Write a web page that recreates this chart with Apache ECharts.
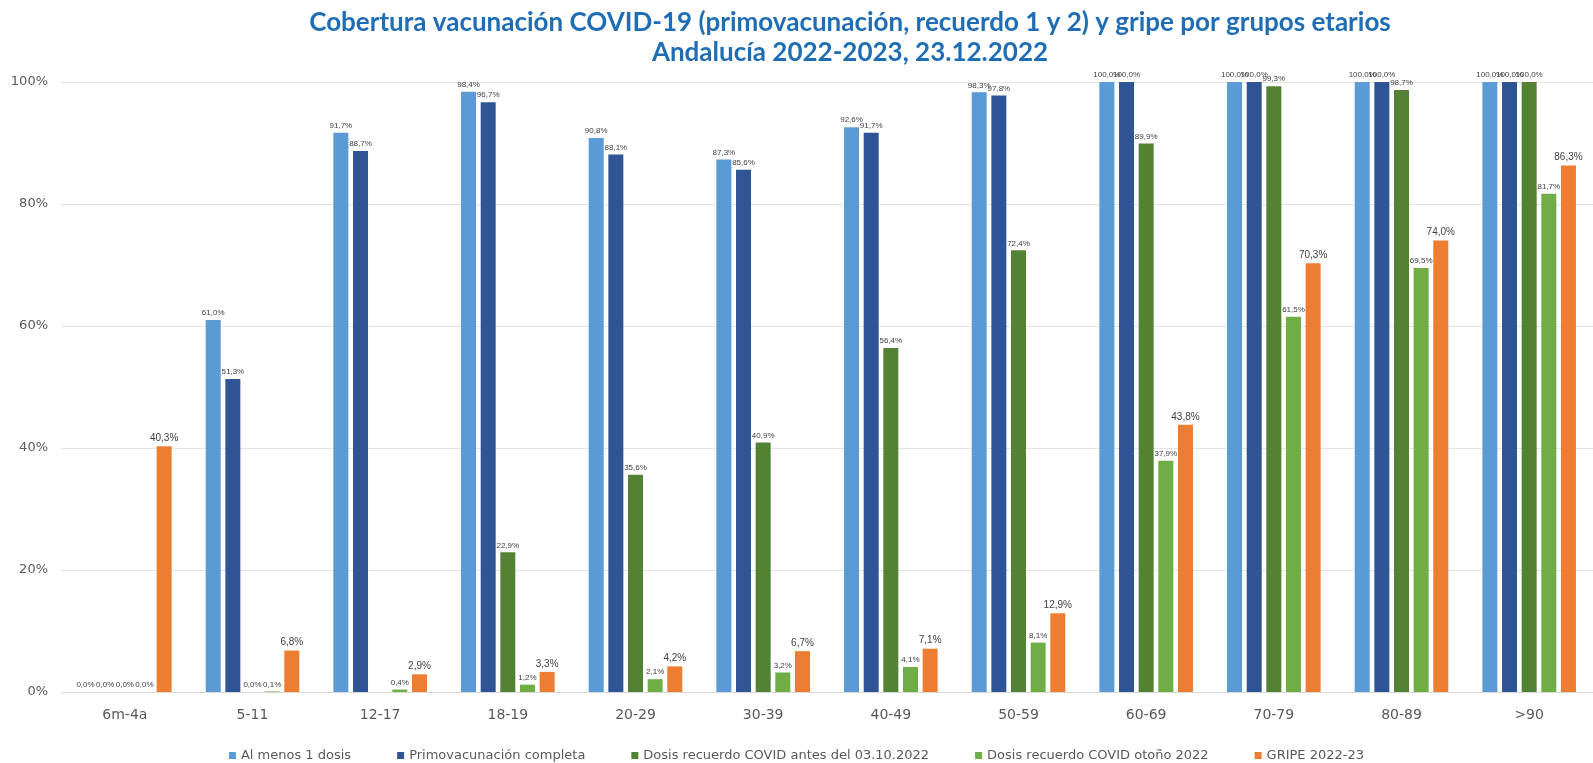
<!DOCTYPE html>
<html><head><meta charset="utf-8">
<script src="https://cdn.jsdelivr.net/npm/echarts@6/dist/echarts.min.js"></script>
<style>html,body{margin:0;padding:0;background:#fff}#c{width:1593px;height:763px}</style>
</head><body><div id="c"></div>
<script>
const categories = ['6m-4a','5-11','12-17','18-19','20-29','30-39','40-49','50-59','60-69','70-79','80-89','>90'];
const alMenos1 = [0.0,61.0,91.7,98.4,90.8,87.3,92.6,98.3,100.0,100.0,100.0,100.0];
const primovac = [0.0,51.3,88.7,96.7,88.1,85.6,91.7,97.8,100.0,100.0,100.0,100.0];
const recuerdoAntes = [0.0,0.0,null,22.9,35.6,40.9,56.4,72.4,89.9,99.3,98.7,100.0];
const recuerdoOtono = [0.0,0.1,0.4,1.2,2.1,3.2,4.1,8.1,37.9,61.5,69.5,81.7];
const gripe = [40.3,6.8,2.9,3.3,4.2,6.7,7.1,12.9,43.8,70.3,74.0,86.3];
const yTicks = [0,20,40,60,80,100];
const seriesNames = ['Al menos 1 dosis','Primovacunación completa','Dosis recuerdo COVID antes del 03.10.2022','Dosis recuerdo COVID otoño 2022','GRIPE 2022-23'];
const colors = ['#5B9BD5','#2F5597','#548235','#70AD47','#ED7D31'];
const dataSets = [alMenos1, primovac, recuerdoAntes, recuerdoOtono, gripe];

const fmt = v => (v==null?'':v.toFixed(1).replace('.',',')+'%');
const chart = echarts.init(document.getElementById('c'));
chart.setOption({
  animation:false,
  color: colors,
  title:{
    text:'Cobertura vacunación COVID-19 (primovacunación, recuerdo 1 y 2) y gripe por grupos etarios\nAndalucía 2022-2023, 23.12.2022',
    left:845, textAlign:'center', top:3,
    textStyle:{fontFamily:'Lato', fontWeight:'bold', fontSize:26, color:'#1F6DB4', lineHeight:30}
  },
  legend:{
    top:744, left:'center', itemWidth:7, itemHeight:7, itemGap:46,
    icon:'rect',
    textStyle:{fontFamily:'DejaVu Sans', fontSize:13, color:'#595959'},
    data: seriesNames
  },
  grid:{left:61, right:-6, top:82, bottom:71},
  xAxis:{
    type:'category', data:categories,
    axisLine:{lineStyle:{color:'#D9D9D9'}},
    axisTick:{show:false},
    axisLabel:{color:'#595959', fontSize:14, fontFamily:'DejaVu Sans', margin:16}
  },
  yAxis:{
    type:'value', min:0, max:100, interval:20,
    axisLabel:{color:'#595959', fontSize:13, fontFamily:'DejaVu Sans', formatter: v => yTicks.includes(v)? v+'%':'', margin:13},
    splitLine:{lineStyle:{color:'#E3E3E3'}},
    axisLine:{show:false}, axisTick:{show:false}
  },
  series: dataSets.map((d,i)=>({
    name: seriesNames[i], type:'bar', data:d,
    barWidth:15, barGap:'31%',
    itemStyle:{color:colors[i]},
    label:{show:true, position:'top', distance:3, formatter:p=>fmt(p.value),
      fontFamily:'Liberation Sans', fontSize: i===4?10:8, color:'#404040'}
  }))
});
</script></body></html>
